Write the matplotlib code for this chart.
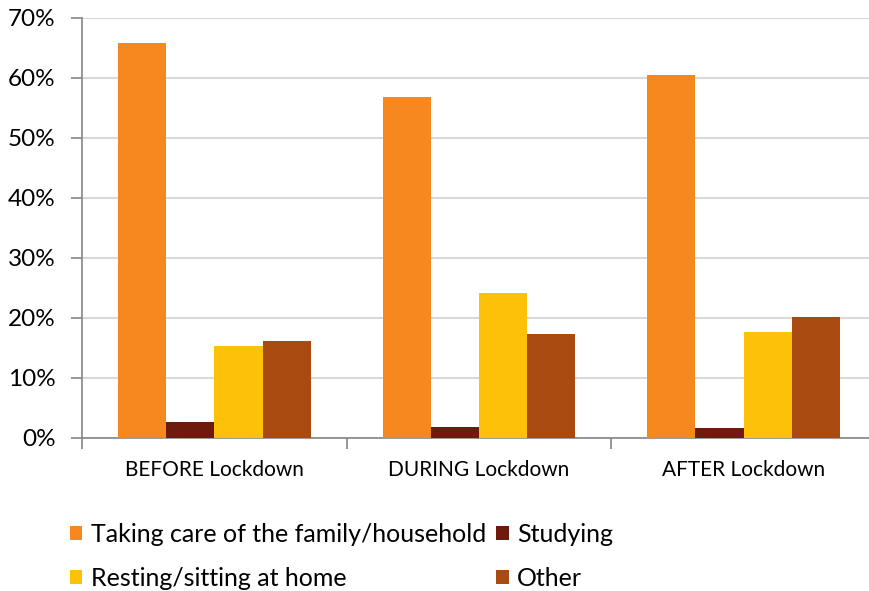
import numpy as np
import matplotlib
matplotlib.use("Agg")
import matplotlib.pyplot as plt
from matplotlib.ticker import FuncFormatter, FixedLocator

plt.rcParams['font.family'] = ['Lato', 'DejaVu Sans']

categories = ['BEFORE Lockdown', 'DURING Lockdown', 'AFTER Lockdown']
series_names = ['Taking care of the family/household', 'Studying',
                'Resting/sitting at home', 'Other']
care = [65.8, 56.8, 60.5]
studying = [2.7, 1.8, 1.7]
resting = [15.3, 24.2, 17.7]
other = [16.2, 17.3, 20.2]
colors = ['#F7881F', '#6E1B0E', '#FDC10A', '#A94A10']

fig = plt.figure(figsize=(8.69, 5.91), dpi=100)
# axes spans past the right edge like the original
ax = fig.add_axes([82 / 869, 1 - 438 / 591, 794 / 869, 420 / 591])

x = np.arange(len(categories))
w = 0.182
values = [care, studying, resting, other]
handles = []
for i, (vals, c) in enumerate(zip(values, colors)):
    h = ax.bar(x + (i - 1.5) * w, vals, width=w, color=c, zorder=3)
    handles.append(h)

ax.set_xlim(-0.5, 2.5)
ax.set_ylim(0, 70)
ax.yaxis.set_major_locator(FixedLocator(np.arange(0, 71, 10)))
ax.yaxis.set_major_formatter(FuncFormatter(lambda v, p: f"{int(v)}%"))
ax.grid(axis='y', color='#D9D9D9', linewidth=1.5, zorder=0)

ax.set_xticks(x)
ax.set_xticklabels(categories, fontsize=15)
ax.set_xticks([-0.5, 0.5, 1.5, 2.5], minor=True)
ax.tick_params(axis='x', which='major', length=0, pad=16)
ax.tick_params(axis='x', which='minor', length=8, width=1.2, color='#868686', direction='out')
ax.tick_params(axis='y', length=8, width=1.2, color='#868686', labelsize=17.5, pad=11)

for s in ['top', 'right']:
    ax.spines[s].set_visible(False)
for s in ['left', 'bottom']:
    ax.spines[s].set_color('#868686')
    ax.spines[s].set_linewidth(1.2)

# legend fills column by column: row 1 = care, studying; row 2 = resting, other
order = [0, 2, 1, 3]
fig.legend([handles[i] for i in order], [series_names[i] for i in order],
           ncol=2, loc='upper left', bbox_to_anchor=(47 / 869, 1 - 500 / 591),
           frameon=False, fontsize=18, handlelength=0.5, handleheight=0.5,
           handletextpad=0.35, columnspacing=0.4, labelspacing=0.85)

fig.savefig('out.png', dpi=100)
